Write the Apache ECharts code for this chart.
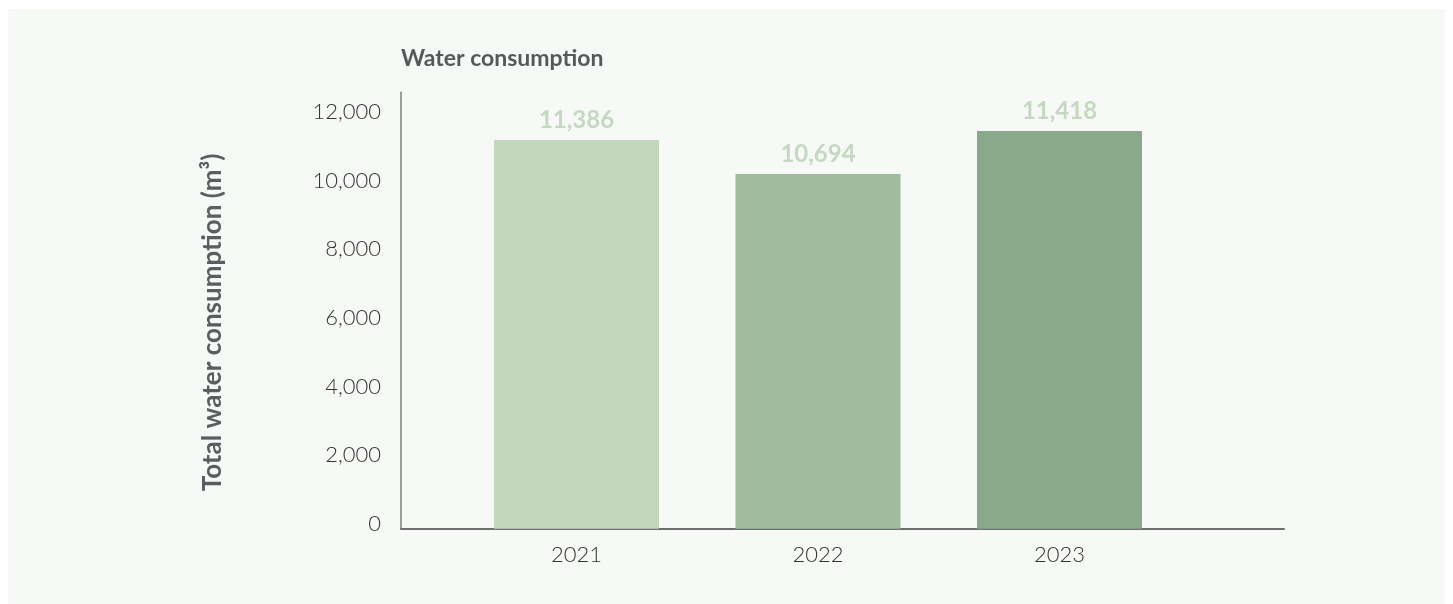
<!DOCTYPE html>
<html>
<head>
<meta charset="utf-8">
<script src="https://cdn.jsdelivr.net/npm/echarts@6/dist/echarts.min.js"></script>
<style>
html,body{margin:0;padding:0;background:#ffffff;}
#chart{width:1453px;height:604px;}
</style>
</head>
<body>
<div id="chart"></div>
<script>
// Data
var years = ['2021', '2022', '2023'];
var barValues = [11330, 10340, 11595];          // bar heights as drawn
var labelValues = ['11,386', '10,694', '11,418']; // printed data labels
var barColors = ['#c3d7bf', '#a0bca0', '#8aa88b'];
var yTicks = { min: 0, max: 12720, interval: 2000 };
var titleText = 'Water consumption';
var yAxisTitle = 'Total water consumption (m\u00b3)';

var FONT = 'Lato, "Noto Sans", sans-serif';
var chart = echarts.init(document.getElementById('chart'), null, { renderer: 'canvas' });

var option = {
  animation: false,
  backgroundColor: '#ffffff',
  graphic: [{
    type: 'rect', z: -10, silent: true,
    shape: { x: 8, y: 9, width: 1437, height: 595 },
    style: { fill: '#f7f9f6' }
  }],
  title: {
    text: titleText, left: 396, top: 42,
    textStyle: { fontFamily: FONT, fontSize: 23, fontWeight: 'bold', color: '#55595b' }
  },
  grid: [
    { left: 401, top: 92.3, width: 883, height: 436.4 },
    { left: 455.75, top: 92.3, width: 724.5, height: 436.4 }
  ],
  xAxis: [
    { gridIndex: 0, type: 'value', min: 0, max: 1,
      axisLine: { show: true, lineStyle: { color: '#6f6f6f', width: 2 } },
      axisTick: { show: false }, axisLabel: { show: false }, splitLine: { show: false } },
    { gridIndex: 1, type: 'category', data: years,
      axisLine: { show: false }, axisTick: { show: false }, splitLine: { show: false },
      axisLabel: { margin: 15, fontFamily: FONT, fontSize: 22, fontWeight: 300, color: '#333333' } }
  ],
  yAxis: [
    { gridIndex: 0, type: 'value', min: yTicks.min, max: yTicks.max, interval: yTicks.interval,
      axisLine: { show: true, lineStyle: { color: '#808080', width: 1.5 } },
      axisTick: { show: false }, splitLine: { show: false },
      axisLabel: { showMaxLabel: false, margin: 20, fontFamily: FONT, fontSize: 22, fontWeight: 300, color: '#333333',
        verticalAlign: 'bottom', lineHeight: 10,
        formatter: function (v) { return v.toLocaleString('en-US'); } },
      name: yAxisTitle, nameLocation: 'middle', nameGap: 175, nameRotate: 90,
      nameTextStyle: { fontFamily: FONT, fontSize: 26, fontWeight: 'bold', color: '#5b5e60', padding: [0, 24, 0, 0] } },
    { gridIndex: 1, type: 'value', min: yTicks.min, max: yTicks.max, interval: yTicks.interval, show: false }
  ],
  series: [{
    type: 'bar', xAxisIndex: 1, yAxisIndex: 1, barWidth: 165,
    data: barValues.map(function (v, i) { return { value: v, itemStyle: { color: barColors[i] } }; }),
    label: {
      show: true, position: 'top', distance: 8,
      fontFamily: FONT, fontSize: 24, fontWeight: 'bold', color: '#c5d8c1',
      formatter: function (p) { return labelValues[p.dataIndex]; }
    }
  }]
};
chart.setOption(option);
</script>
</body>
</html>
